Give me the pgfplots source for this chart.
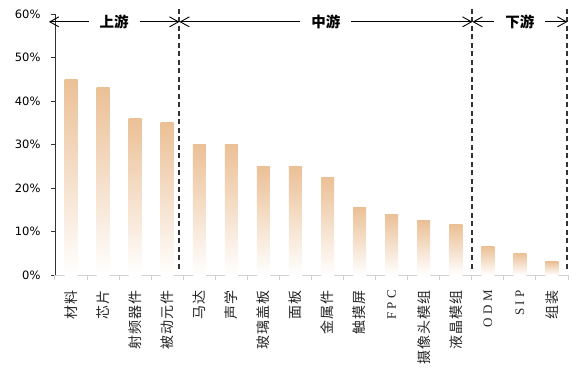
\documentclass[border=0pt]{standalone}
\usepackage{fontspec}
\usepackage{pgfplots}
\pgfplotsset{compat=1.18}
\usetikzlibrary{arrows.meta}
\setmainfont{DejaVu Sans}
\newfontfamily\cjk{Noto Sans CJK SC}
\newfontfamily\cjkl{Noto Sans CJK SC}[LetterSpace=8]
\newfontfamily\lserif{Liberation Serif}[LetterSpace=25]
\definecolor{barc}{RGB}{235,192,150}
\newcommand{\lat}[1]{{\lserif\fontsize{13}{13}\selectfont #1}}
\newcommand{\onebar}[2]{\addplot[ybar, bar width=13pt, bar shift=0pt, draw=none, top color=barc, bottom color=white, forget plot] coordinates {(#1,#2)};}
\begin{document}
\begin{tikzpicture}
\begin{axis}[
  at={(0pt,0pt)}, anchor=south west,
  scale only axis, width=513pt, height=261pt,
  xmin=-0.5, xmax=15.5, ymin=0, ymax=60,
  axis x line*=bottom, axis y line*=left,
  x axis line style={draw=black!18, line width=1pt},
  y axis line style={draw=black!80, line width=0.9pt},
  xtick={0,...,15},
  xticklabels={材料,芯片,射频器件,被动元件,马达,声学,玻璃盖板,面板,金属件,触摸屏,\lat{FPC},摄像头模组,液晶模组,\lat{ODM},\lat{SIP},组装},
  xtick style={draw=none},
  xticklabel style={rotate=90, anchor=east, inner sep=0pt, font=\cjkl\fontsize{14}{14}\selectfont, text=black!85},
  xticklabel shift=11pt,
  extra x ticks={-0.5,0.5,...,15.5},
  extra x tick labels={},
  extra x tick style={xtick style={draw=black!18, line width=1pt}, major tick length=5pt},
  ytick={0,10,...,60},
  yticklabel={\pgfmathprintnumber{\tick}\%},
  yticklabel style={font=\fontsize{11.5}{12}\selectfont, text=black, xshift=-7pt},
  ytick style={draw=black!80, line width=0.9pt},
  tick align=outside, major tick length=4pt,
  /pgf/number format/assume math mode=true,
  clip=false,
]
\onebar{0}{45}
\onebar{1}{43}
\onebar{2}{36}
\onebar{3}{35}
\onebar{4}{30}
\onebar{5}{30}
\onebar{6}{25}
\onebar{7}{25}
\onebar{8}{22.5}
\onebar{9}{15.5}
\onebar{10}{14}
\onebar{11}{12.5}
\onebar{12}{11.5}
\onebar{13}{6.5}
\onebar{14}{5}
\onebar{15}{3}
\draw[black!80, line width=2pt, dash pattern=on 5pt off 3.5pt] (axis cs:3.38,1.4) -- (axis cs:3.38,61.6);
\draw[black!80, line width=2pt, dash pattern=on 5pt off 3.5pt] (axis cs:12.52,1.4) -- (axis cs:12.52,61.6);
\draw[black!80, line width=2pt, dash pattern=on 5pt off 3.5pt] (axis cs:15.48,1.4) -- (axis cs:15.48,61.6);
\draw[{Straight Barb[length=9pt,width=10pt]}-{Straight Barb[length=9pt,width=10pt]}, line width=0.9pt] (axis cs:-0.69,58.2) -- (axis cs:3.38,58.2) node[midway, fill=white, inner xsep=11pt, inner ysep=1pt, font=\cjk\bfseries\fontsize{14.5}{15}\selectfont] {上游};
\draw[{Straight Barb[length=9pt,width=10pt]}-{Straight Barb[length=9pt,width=10pt]}, line width=0.9pt] (axis cs:3.38,58.2) -- (axis cs:12.52,58.2) node[midway, fill=white, inner xsep=11pt, inner ysep=1pt, font=\cjk\bfseries\fontsize{14.5}{15}\selectfont] {中游};
\draw[{Straight Barb[length=9pt,width=10pt]}-{Straight Barb[length=9pt,width=10pt]}, line width=0.9pt] (axis cs:12.52,58.2) -- (axis cs:15.48,58.2) node[midway, fill=white, inner xsep=11pt, inner ysep=1pt, font=\cjk\bfseries\fontsize{14.5}{15}\selectfont] {下游};
\end{axis}
\pgfresetboundingbox
\path[use as bounding box] (-55pt,-101pt) rectangle (530pt,275pt);
\end{tikzpicture}
\end{document}
